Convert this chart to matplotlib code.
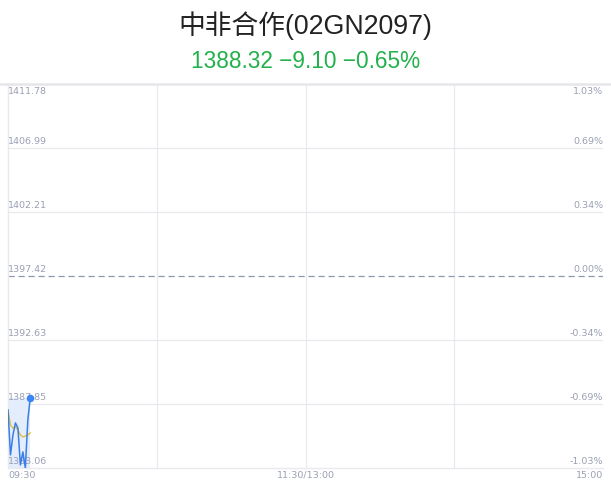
import numpy as np
import matplotlib
matplotlib.use("Agg")
import matplotlib.pyplot as plt

plt.rcParams["font.family"] = ["Noto Sans CJK SC", "DejaVu Sans"]

TITLE = "中非合作(02GN2097)"
SUBTITLE = "1388.32 \u22129.10 \u22120.65%"
PREV_CLOSE = 1397.42

# minutes since 09:30 (trading-time axis, 240 minutes total)
minutes = [0, 1, 2, 3, 4, 5, 6, 7, 8, 9]
price = [1387.40, 1384.04, 1385.53, 1386.43, 1386.05, 1383.29, 1384.26, 1383.06, 1386.65, 1388.32]
avg_price = [1387.40, 1386.28, 1386.05, 1386.13, 1385.91, 1385.53, 1385.38, 1385.45, 1385.53, 1385.68]

price_ticks = [1383.06, 1387.85, 1392.63, 1397.42, 1402.21, 1406.99, 1411.78]
pct_labels = ["-1.03%", "-0.69%", "-0.34%", "0.00%", "0.34%", "0.69%", "1.03%"]
time_ticks = [0, 120, 240]
time_labels = ["09:30", "11:30/13:00", "15:00"]
grid_minutes = [60, 120, 180]

GRID = "#e9e9ef"
LABEL = "#9aa0b4"
HEAD_FONT = ["Liberation Sans", "Noto Sans CJK SC", "DejaVu Sans"]

fig = plt.figure(figsize=(6.11, 4.92), dpi=100)
ax = fig.add_axes([8 / 611, 24 / 492, 595 / 611, 384 / 492])
ax.set_xlim(0, 240)
ax.set_ylim(price_ticks[0], price_ticks[-1])

for sp in ["top", "right"]:
    ax.spines[sp].set_visible(False)
for sp in ["left", "bottom"]:
    ax.spines[sp].set_color(GRID)
    ax.spines[sp].set_linewidth(1.0)
ax.set_xticks([])
ax.set_yticks([])

# grid
for p in price_ticks[1:-1]:
    if p == PREV_CLOSE:
        ax.axhline(p, color="#8e99b0", lw=0.9, ls=(0, (5, 3)), zorder=1)
    else:
        ax.axhline(p, color=GRID, lw=0.9, zorder=0)
for m in grid_minutes:
    ax.axvline(m, color=GRID, lw=0.9, zorder=0)

# y labels: just above their grid lines, the top one hangs below
for p, pl in zip(price_ticks, pct_labels):
    top = p == price_ticks[-1]
    dy = -2 if top else 1.5
    va = "top" if top else "bottom"
    ax.annotate(f"{p:.2f}", (0, p), xytext=(0, dy), textcoords="offset points",
                ha="left", va=va, fontsize=6.8, color=LABEL, family="DejaVu Sans")
    ax.annotate(pl, (240, p), xytext=(0, dy), textcoords="offset points",
                ha="right", va=va, fontsize=6.8, color=LABEL, family="DejaVu Sans")

# x labels
for t, lab in zip(time_ticks, time_labels):
    ha = "left" if t == 0 else ("right" if t == 240 else "center")
    ax.annotate(lab, (t, price_ticks[0]), xytext=(0, -2), textcoords="offset points",
                ha=ha, va="top", fontsize=6.8, color=LABEL, family="DejaVu Sans",
                annotation_clip=False)

# highlight box behind the traded range
ax.fill_between([minutes[0], minutes[-1]], price_ticks[0], max(price),
                color="#e3edfc", lw=0, zorder=1)

ax.plot(minutes, avg_price, color="#e3c034", lw=1.0, zorder=3)
ax.plot(minutes, price, color="#3a7ee8", lw=1.1, zorder=4)
ax.scatter([minutes[-1]], [price[-1]], s=30, color="#3a86f5", zorder=5, lw=0)

# header
fig.text(0.5, 1 - 26 / 492, TITLE, ha="center", va="center", fontsize=19.3,
         color="#222222", family=HEAD_FONT)
fig.text(0.5, 1 - 61 / 492, SUBTITLE, ha="center", va="center", fontsize=16.3,
         color="#22b14c", family=HEAD_FONT)
fig.add_artist(plt.Line2D([0, 1], [1 - 83.5 / 492] * 2, color="#e6e6ea", lw=1.8,
                          transform=fig.transFigure))

fig.savefig("out.png", dpi=100)
